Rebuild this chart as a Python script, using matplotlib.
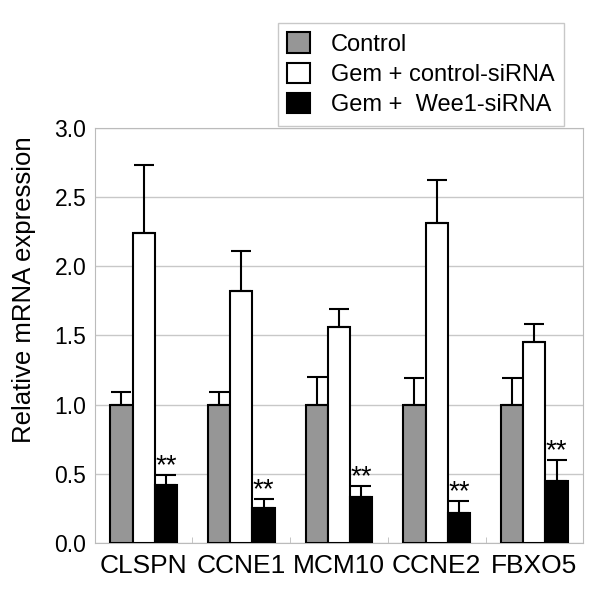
import numpy as np
import matplotlib
matplotlib.use('Agg')
import matplotlib.pyplot as plt
from matplotlib.patches import Patch

plt.rcParams['font.family'] = ['Liberation Sans', 'DejaVu Sans']

genes = ['CLSPN', 'CCNE1', 'MCM10', 'CCNE2', 'FBXO5']
labels = ['Control', 'Gem + control-siRNA', 'Gem +  Wee1-siRNA']
control = [1.0, 1.0, 1.0, 1.0, 1.0]
control_err = [0.09, 0.09, 0.20, 0.19, 0.19]
gem_ctrl = [2.24, 1.82, 1.56, 2.31, 1.45]
gem_ctrl_err = [0.49, 0.29, 0.13, 0.31, 0.13]
gem_wee1 = [0.42, 0.25, 0.335, 0.22, 0.45]
gem_wee1_err = [0.07, 0.07, 0.075, 0.08, 0.15]

series = [control, gem_ctrl, gem_wee1]
errs = [control_err, gem_ctrl_err, gem_wee1_err]
colors = ['#969696', 'white', 'black']

fig = plt.figure(figsize=(6, 6), dpi=100)
ax = fig.add_axes([0.158, 0.095, 0.814, 0.692])

x = np.arange(len(genes)) + 0.5
w = 0.228
for i, (vals, err, c) in enumerate(zip(series, errs, colors)):
    pos = x + (i - 1) * w
    ax.bar(pos, vals, w, color=c, edgecolor='black', linewidth=1.5, zorder=3)
    ax.errorbar(pos, vals, yerr=[np.zeros(len(vals)), err], fmt='none',
                ecolor='black', elinewidth=1.5, capsize=7, capthick=1.5, zorder=4)

# significance marks over the Wee1 bars
for xi, v, e in zip(x + w, gem_wee1, gem_wee1_err):
    ax.text(xi, v + e - 0.03, '**', ha='center', va='bottom', fontsize=20)

ax.set_xlim(0, 5)
ax.set_ylim(0, 3.0)
ax.set_yticks(np.arange(0, 3.01, 0.5))
ax.set_yticklabels(['%.1f' % t for t in np.arange(0, 3.01, 0.5)], fontsize=16.5)
ax.set_xticks(x)
ax.set_xticklabels(genes, fontsize=19)
ax.set_xticks(np.arange(0, 6), minor=True)
ax.tick_params(axis='x', which='major', length=0, pad=8)
ax.tick_params(axis='x', which='minor', length=4, color='#bbbbbb', direction='in')
ax.tick_params(axis='y', length=0, pad=6)
ax.yaxis.grid(True, color='#c8c8c8', linewidth=1)
ax.set_axisbelow(True)
for s in ax.spines.values():
    s.set_color('#bbbbbb')
ax.set_ylabel('Relative mRNA expression', fontsize=18.5)
ax.yaxis.set_label_coords(-0.12, 0.61)

handles = [Patch(facecolor=c, edgecolor='black', linewidth=1.5) for c in colors]
leg = fig.legend(handles, labels, loc='upper left', bbox_to_anchor=(0.463, 0.962),
                 fontsize=17, frameon=True, fancybox=False, edgecolor='#bbbbbb',
                 handlelength=0.95, handleheight=0.95, handletextpad=0.9,
                 labelspacing=0.3, borderpad=0.4, borderaxespad=0)
leg.get_frame().set_linewidth(1)

fig.savefig('out.png', dpi=100, facecolor='white')
